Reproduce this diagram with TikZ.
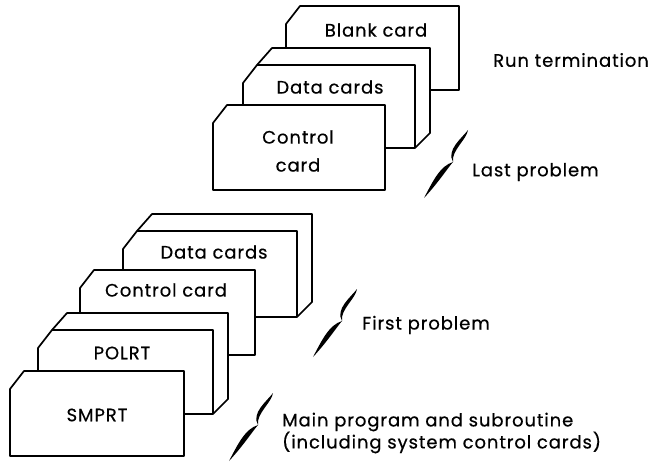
\documentclass[tikz,border=0pt]{standalone}
\usepackage{fontspec}
\setmainfont{Poppins}[LetterSpace=5,FakeBold=0.5]
\begin{document}
\begin{tikzpicture}[x=1pt,y=-1pt,
  cardline/.style={line width=1.7pt,line join=round},
  lbl/.style={font=\fontsize{18}{22}\selectfont,inner sep=0pt},
  side/.style={lbl,anchor=west,align=left},
  bracemark/.pic={
    % upper stroke down to the tip
    \fill (0,0) .. controls (-6,8) and (-22,20) .. (-15,32)
                .. controls (-17,21) and (-1,9) .. (0,0);
    % lower stroke from the tip
    \fill (-15,32) .. controls (-28,36) and (-35,51) .. (-44,68)
                   .. controls (-30,53) and (-21,39) .. (-15,32);
  }]
\useasboundingbox (0,0) rectangle (655,462);

% single card with a clipped top-left corner: x, y, width, height
\newcommand\flatcard[4]{%
  \filldraw[cardline,fill=white] ({#1+14},#2) -- ({#1+#3},#2) -- ({#1+#3},{#2+#4})
    -- (#1,{#2+#4}) -- (#1,{#2+18}) -- cycle;}
% a deck of cards: the back outline, then the front card
\newcommand\deckcard[4]{%
  \fill[white] ({#1+15},#2) -- ({#1+29},{#2-17}) -- ({#1+#3+15},{#2-17})
    -- ({#1+#3+15},{#2+#4-15}) -- ({#1+#3},{#2+#4}) -- (#1,{#2+#4}) -- cycle;
  \draw[cardline] ({#1+14},{#2}) -- ({#1+29},{#2-17}) -- ({#1+#3+15},{#2-17})
    -- ({#1+#3+15},{#2+#4-15}) -- ({#1+#3},{#2+#4});
  \flatcard{#1}{#2}{#3}{#4}}

% last problem and run termination
\flatcard{286}{6}{173}{84}
\node[lbl] (blank) at (376,30) {Blank card};
\deckcard{243}{65}{172}{83}
\node[lbl] (data2) at (330,87) {Data cards};
\flatcard{213}{105}{172}{85}
\node[lbl,align=center] (ctrl2) at (298,151) {Control\\[6pt]card};

% first problem and main program
\deckcard{123}{231}{174}{86}
\node[lbl] (data1) at (214,252) {Data cards};
\flatcard{80}{270}{175}{85}
\node[lbl] (ctrl1) at (166,290) {Control card};
\deckcard{38}{330}{175}{84}
\node[lbl] (polrt) at (122,353) {POLRT};
\flatcard{10}{371}{174}{85}
\node[lbl] (smprt) at (97,415) {SMPRT};

% braces and their captions
\pic at (468,130) {bracemark};
\pic at (357,289) {bracemark};
\pic at (273,393) {bracemark};
\node[side] (run) at (493,60) {Run termination};
\node[side] (last) at (472,172) {Last problem};
\node[side] (first) at (362,325) {First problem};
\node[side] (main) at (282,433) {Main program and subroutine\\[0pt](including system control cards)};
\end{tikzpicture}
\end{document}
